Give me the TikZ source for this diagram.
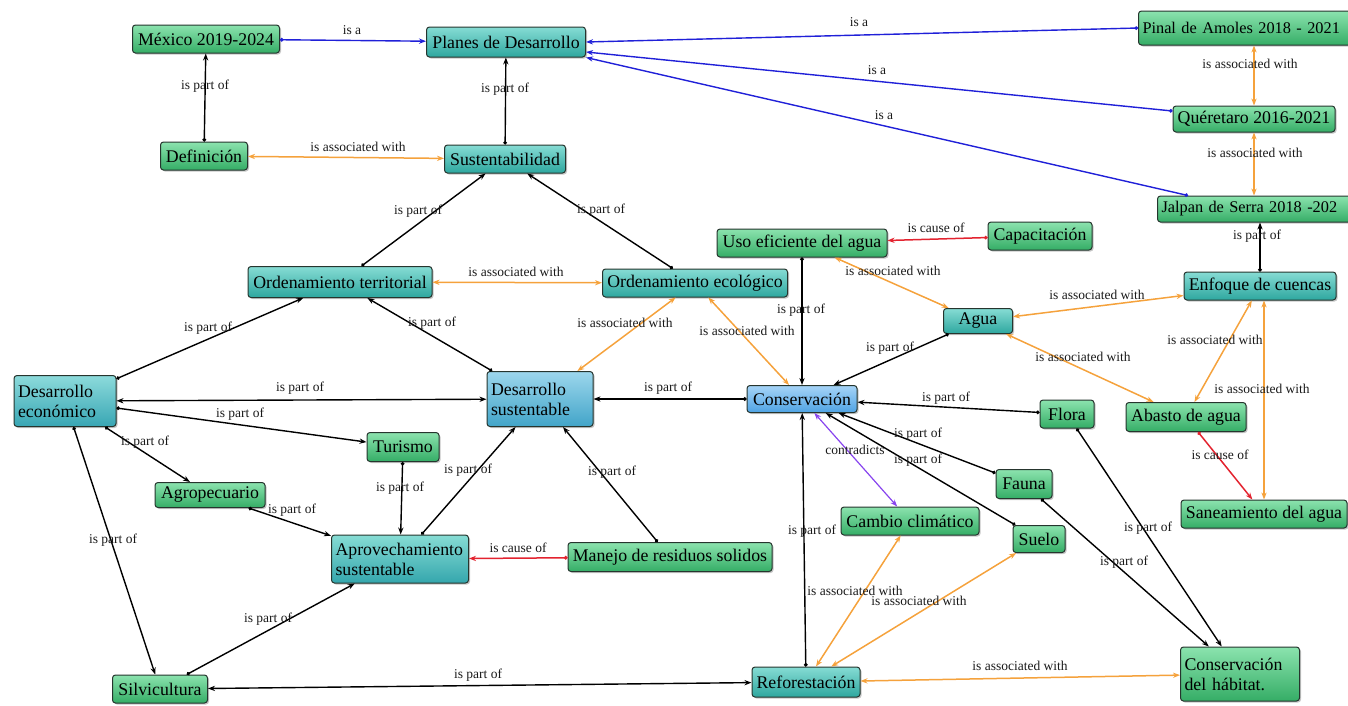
\documentclass[tikz,border=0pt]{standalone}
\usepackage{fontspec}
\setmainfont{Liberation Serif}
\usetikzlibrary{arrows.meta}
\usetikzlibrary{shadows}
\usetikzlibrary{calc}

\definecolor{gtop}{HTML}{8BE3AE}
\definecolor{gbot}{HTML}{35AD66}
\definecolor{ttop}{HTML}{86DCD4}
\definecolor{tbot}{HTML}{2EA79F}
\definecolor{btop}{HTML}{A6D4F7}
\definecolor{bbot}{HTML}{4FA3E4}
\definecolor{bordc}{HTML}{26352E}
\definecolor{isac}{HTML}{2020D8}
\definecolor{assc}{HTML}{F5A23C}
\definecolor{causc}{HTML}{E3232F}
\definecolor{contc}{HTML}{8844EE}

\newcommand{\conceptfont}{\fontsize{17.8}{20}\selectfont}
\newcommand{\edgefont}{\fontsize{16.3}{19}\selectfont}
\newcommand{\linkfont}{\fontsize{13.5}{15}\selectfont}

\begin{document}
\begin{tikzpicture}[x=1pt,y=-1pt,
  concept/.style={draw=bordc, rounded corners=3pt, line width=1pt,
    minimum height=28, inner xsep=4pt, font=\conceptfont,
    drop shadow={opacity=0.45, shadow xshift=1.5pt, shadow yshift=-1.5pt}},
  green/.style={concept, top color=gtop, bottom color=gbot},
  teal/.style={concept, top color=ttop, bottom color=tbot},
  lbl/.style={font=\linkfont, text=black!90, inner sep=0pt},
  partof/.style={draw=black, line width=1.4pt, {Circle[length=3.5pt]}-{Stealth[length=7pt]}},
  isa/.style={draw=isac, line width=1.4pt, {Circle[length=3.5pt]}-{Stealth[length=7pt]}},
  assoc/.style={draw=assc, line width=1.5pt, {Stealth[length=7pt]}-{Stealth[length=7pt]}},
  cause/.style={draw=causc, line width=1.5pt, {Circle[length=3.5pt]}-{Stealth[length=7pt]}},
  contra/.style={draw=contc, line width=1.2pt, {Stealth[length=7pt]}-{Stealth[length=7pt]}}
]
\useasboundingbox (0,0) rectangle (1348,705);

%plans
\node[green, minimum width=147] (mex) at (206,39) {México 2019-2024};
\node[teal, minimum width=159, minimum height=30] (plan) at (506,42) {Planes de Desarrollo};
\node[green, anchor=west, minimum height=34, text width=230, align=left,
  font=\edgefont] (pinal) at (1138,28) {Pinal de Amoles 2018 - 2021};
\node[green, minimum width=162, minimum height=26] (quer) at (1254,119) {Quéretaro 2016-2021};
\node[green, anchor=west, minimum height=26, text width=230, align=left,
  font=\edgefont] (jalpan) at (1157,209) {Jalpan de Serra 2018 -202};
\node[green, minimum width=87] (defi) at (204,156) {Definición};
\node[teal, minimum width=121] (sust) at (505,159) {Sustentabilidad};

%middle
\node[green, minimum width=170] (uso) at (802,243) {Uso eficiente del agua};
\node[green, minimum width=104] (capa) at (1040,236) {Capacitación};
\node[teal, minimum width=184, minimum height=31] (ot) at (340,282) {Ordenamiento territorial};
\node[teal, minimum width=185] (oe) at (695,283) {Ordenamiento ecológico};
\node[teal, minimum width=152] (enf) at (1260,286) {Enfoque de cuencas};
\node[teal, minimum width=69, minimum height=25] (agua) at (978,321) {Agua};
\node[concept, top color=ttop!80!btop, bottom color=tbot!70!bbot, minimum height=51,
  text width=94, align=left] (deco) at (65,401) {Desarrollo\\económico};
\node[concept, top color=btop!70!ttop, bottom color=bbot!60!tbot, minimum height=55,
  text width=98, align=left] (dsus) at (540,399) {Desarrollo\\sustentable};
\node[concept, top color=btop, bottom color=bbot, minimum width=110, minimum height=27] (cons) at (802,399) {Conservación};
\node[green, minimum width=54] (flora) at (1067,414) {Flora};
\node[green, minimum width=120, minimum height=29] (abasto) at (1186,417) {Abasto de agua};
\node[green, minimum width=72, minimum height=29] (tur) at (403,447) {Turismo};
\node[green, minimum width=110, minimum height=25] (agro) at (210,495) {Agropecuario};
\node[green, minimum width=56, minimum height=29] (fauna) at (1024,484) {Fauna};
\node[green, minimum width=138] (cambio) at (910,521) {Cambio climático};
\node[green, minimum width=52, minimum height=27] (suelo) at (1039,539) {Suelo};
\node[green, minimum width=166] (sane) at (1264,514) {Saneamiento del agua};

%bottom
\node[concept, top color=ttop, bottom color=tbot!80!bbot, minimum height=48,
  text width=129, align=left] (aprov) at (400,559) {Aprovechamiento\\sustentable};
\node[green, minimum width=204, minimum height=29] (manejo) at (670,557) {Manejo de residuos solidos};
\node[green, minimum width=95] (silv) at (160,689) {Silvicultura};
\node[teal, minimum width=108, minimum height=30] (refo) at (806,682) {Reforestación};
\node[green, minimum height=54, text width=111, align=left] (hab) at (1240,674) {Conservación\\del hábitat.};

%is a
\draw[isa] (mex) -- (plan) node[lbl] (l1) at (352,30) {is a};
\draw[isa] (pinal.west) -- (plan.east) node[lbl] (l2) at (859,22) {is a};
\draw[isa] ($(quer.west)+(0,-8)$) -- ($(plan.east)+(0,10)$) node[lbl] (l3) at (877,70) {is a};
\draw[isa] ($(jalpan.north west)+(31,0)$) -- (plan.south east) node[lbl] (l4) at (884,115) {is a};

%is part of
\draw[partof] (defi) -- (mex) node[lbl] (l5) at (205,86) {is part of};
\draw[partof] (sust) -- (plan) node[lbl] (l6) at (505,89) {is part of};
\draw[partof] (ot) -- (sust) node[lbl] (l7) at (418,211) {is part of};
\draw[partof] (oe) -- (sust) node[lbl] (l8) at (601,210) {is part of};
\draw[partof] (deco) -- (ot) node[lbl] (l9) at (208,328) {is part of};
\draw[partof] (dsus) -- (ot) node[lbl] (l10) at (432,323) {is part of};
\draw[partof] (uso) -- (cons) node[lbl] (l11) at (801,310) {is part of};
\draw[partof] (agua) -- (cons) node[lbl] (l12) at (890,348) {is part of};
\draw[partof] (enf.north) -- (enf.north |- jalpan.south) node[lbl] (l13) at (1257,236) {is part of};
\draw[partof] (cons) -- (dsus) node[lbl] (l14) at (668,388) {is part of};
\draw[partof] (flora) -- (cons) node[lbl] (l15) at (946,398) {is part of};
\draw[partof] (fauna) -- (cons) node[lbl] (l16) at (918,434) {is part of};
\draw[partof] (suelo) -- (cons) node[lbl] (l17) at (918,460) {is part of};
\draw[partof] (refo) -- (cons) node[lbl] (l18) at (812,531) {is part of};
\draw[partof] (flora) -- (hab) node[lbl] (l19) at (1148,528) {is part of};
\draw[partof] (fauna) -- (hab) node[lbl] (l20) at (1124,562) {is part of};
\draw[draw=black, line width=1.4pt, {Stealth[length=7pt]}-{Stealth[length=7pt]}] (deco) -- (dsus) node[lbl] (l21) at (300,388) {is part of};
\draw[partof] (deco) -- (tur) node[lbl] (l22) at (240,414) {is part of};
\draw[partof] (deco) -- (agro) node[lbl] (l23) at (145,442) {is part of};
\draw[partof] (deco) -- (silv) node[lbl] (l24) at (113,540) {is part of};
\draw[partof] (tur) -- (aprov) node[lbl] (l25) at (400,488) {is part of};
\draw[partof] (aprov) -- (dsus) node[lbl] (l26) at (468,470) {is part of};
\draw[partof] (manejo) -- (dsus) node[lbl] (l27) at (612,472) {is part of};
\draw[partof] (agro) -- (aprov) node[lbl] (l28) at (292,510) {is part of};
\draw[partof] (silv) -- (aprov) node[lbl] (l29) at (268,619) {is part of};
\draw[draw=black, line width=1.4pt, {Stealth[length=7pt]}-{Stealth[length=7pt]}] (refo) -- (silv) node[lbl] (l30) at (478,675) {is part of};

%is associated with
\draw[assoc] (quer.north) -- (quer.north |- pinal.south) node[lbl] (l31) at (1250,64) {is associated with};
\draw[assoc] (quer.south) -- (quer.south |- jalpan.north) node[lbl] (l32) at (1255,153) {is associated with};
\draw[assoc] (defi) -- (sust) node[lbl] (l33) at (358,147) {is associated with};
\draw[assoc] (ot) -- (oe) node[lbl] (l34) at (516,272) {is associated with};
\draw[assoc] (dsus) -- (oe) node[lbl] (l35) at (625,323) {is associated with};
\draw[assoc] (cons) -- (oe) node[lbl] (l36) at (747,331) {is associated with};
\draw[assoc] (uso) -- (agua) node[lbl] (l37) at (893,271) {is associated with};
\draw[assoc] (enf) -- (agua) node[lbl] (l38) at (1097,295) {is associated with};
\draw[assoc] (abasto) -- (agua) node[lbl] (l39) at (1083,357) {is associated with};
\draw[assoc] (abasto) -- (enf) node[lbl] (l40) at (1215,340) {is associated with};
\draw[assoc] (sane.north) -- (sane.north |- enf.south) node[lbl] (l41) at (1262,389) {is associated with};
\draw[assoc] (refo) -- (cambio) node[lbl] (l42) at (855,591) {is associated with};
\draw[assoc] (refo) -- (suelo) node[lbl] (l43) at (919,601) {is associated with};
\draw[assoc] (refo) -- (hab) node[lbl] (l44) at (1020,666) {is associated with};

%is cause of, contradicts
\draw[cause] (capa) -- (uso) node[lbl] (l45) at (936,228) {is cause of};
\draw[cause] (abasto) -- (sane) node[lbl] (l46) at (1220,455) {is cause of};
\draw[cause] (manejo) -- (aprov) node[lbl] (l47) at (518,548) {is cause of};
\draw[contra] (cons) -- (cambio) node[lbl] (l48) at (855,450) {contradicts};
\end{tikzpicture}
\end{document}
